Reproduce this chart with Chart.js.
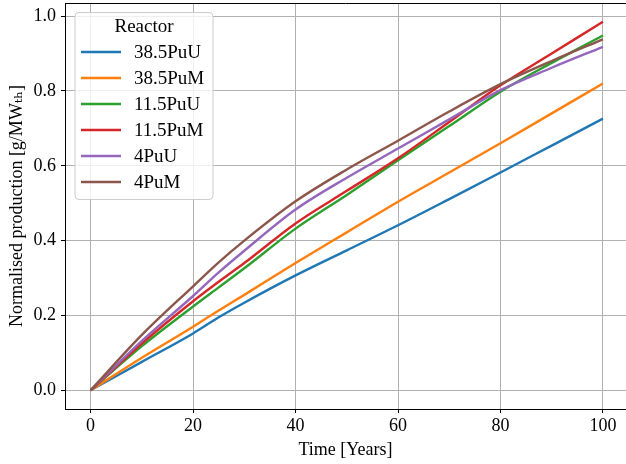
<!DOCTYPE html>
<html>
<head>
<meta charset="utf-8">
<script src="https://cdn.jsdelivr.net/npm/chart.js@4.4.1/dist/chart.umd.min.js"></script>
<style>
html,body{margin:0;padding:0;background:#fff;overflow:hidden;}
#wrap{width:626px;height:464px;position:relative;}
</style>
</head>
<body>
<div id="wrap"><canvas id="c" width="626" height="464"></canvas></div>
<script>
const years = [0, 10, 20, 25, 30, 40, 50, 60, 70, 80, 90, 100];
const s385PuU = [0, 0.076, 0.152, 0.195, 0.234, 0.307, 0.374, 0.441, 0.511, 0.582, 0.654, 0.726];
const s385PuM = [0, 0.087, 0.170, 0.213, 0.255, 0.340, 0.422, 0.504, 0.582, 0.660, 0.740, 0.820];
const s115PuU = [0, 0.118, 0.224, 0.275, 0.326, 0.432, 0.522, 0.615, 0.706, 0.798, 0.875, 0.948];
const s115PuM = [0, 0.125, 0.238, 0.290, 0.340, 0.446, 0.533, 0.620, 0.717, 0.815, 0.900, 0.985];
const s4PuU   = [0, 0.132, 0.252, 0.315, 0.373, 0.483, 0.568, 0.646, 0.724, 0.802, 0.862, 0.918];
const s4PuM   = [0, 0.148, 0.278, 0.342, 0.400, 0.505, 0.590, 0.667, 0.745, 0.818, 0.880, 0.938];
const seriesNames = ['38.5PuU', '38.5PuM', '11.5PuU', '11.5PuM', '4PuU', '4PuM'];
const seriesValues = [s385PuU, s385PuM, s115PuU, s115PuM, s4PuU, s4PuM];
const colors = ['#1f77b4', '#ff7f0e', '#2ca02c', '#d62728', '#9467bd', '#8c564b'];
const xTicks = [0, 20, 40, 60, 80, 100];
const yTicks = [0, 0.2, 0.4, 0.6, 0.8, 1.0];
const legendTitle = 'Reactor';

const FONT = "'Liberation Serif', 'DejaVu Serif', serif";

const datasets = seriesNames.map((n, i) => ({
  label: n,
  data: years.map((t, k) => ({x: t, y: seriesValues[i][k]})),
  borderColor: colors[i],
  backgroundColor: colors[i],
  borderWidth: 2.4,
  pointRadius: 0,
  fill: false,
  cubicInterpolationMode: 'monotone',
  order: seriesNames.length - i
}));

const extras = {
  id: 'extras',
  afterDraw(chart) {
    const ctx = chart.ctx, a = chart.chartArea;
    ctx.save();
    ctx.strokeStyle = '#000';
    ctx.lineWidth = 1;
    ctx.beginPath();
    ctx.moveTo(a.left, a.top + 0.5);
    ctx.lineTo(a.right, a.top + 0.5);
    ctx.stroke();
    const bx = a.left + 10, by = a.top + 9.5, bw = 138, bh = 187, r = 4;
    ctx.beginPath();
    ctx.moveTo(bx + r, by);
    ctx.lineTo(bx + bw - r, by);
    ctx.quadraticCurveTo(bx + bw, by, bx + bw, by + r);
    ctx.lineTo(bx + bw, by + bh - r);
    ctx.quadraticCurveTo(bx + bw, by + bh, bx + bw - r, by + bh);
    ctx.lineTo(bx + r, by + bh);
    ctx.quadraticCurveTo(bx, by + bh, bx, by + bh - r);
    ctx.lineTo(bx, by + r);
    ctx.quadraticCurveTo(bx, by, bx + r, by);
    ctx.closePath();
    ctx.fillStyle = 'rgba(255,255,255,0.8)';
    ctx.fill();
    ctx.strokeStyle = '#cccccc';
    ctx.lineWidth = 1;
    ctx.stroke();
    ctx.fillStyle = '#000';
    ctx.font = '19px ' + FONT;
    ctx.textAlign = 'center';
    ctx.textBaseline = 'middle';
    ctx.fillText(legendTitle, bx + bw / 2, by + 15);
    ctx.textAlign = 'left';
    seriesNames.forEach((n, i) => {
      const yy = by + 39.5 + i * 26;
      ctx.strokeStyle = colors[i];
      ctx.lineWidth = 2.4;
      ctx.beginPath();
      ctx.moveTo(bx + 6, yy);
      ctx.lineTo(bx + 46, yy);
      ctx.stroke();
      ctx.fillStyle = '#000';
      ctx.fillText(n, bx + 59, yy + 1);
    });
    ctx.restore();
  }
};

new Chart(document.getElementById('c'), {
  type: 'line',
  data: { datasets },
  options: {
    responsive: false,
    animation: false,
    layout: { padding: { top: 3, right: 0, left: 0, bottom: 0 } },
    plugins: { legend: { display: false }, tooltip: { enabled: false } },
    scales: {
      x: {
        type: 'linear',
        min: -5,
        max: 104.5,
        afterBuildTicks(scale) { scale.ticks = xTicks.map(v => ({value: v})); },
        afterFit(scale) { scale.height = 55; scale.paddingLeft = 0; scale.paddingRight = 0; },
        ticks: { font: { family: FONT, size: 18 }, color: '#000', padding: 2, maxRotation: 0,
          callback: v => String(v) },
        grid: { color: '#b0b0b0', lineWidth: 1, tickColor: '#000', tickLength: 4 },
        border: { color: '#000', width: 1 },
        title: { display: true, text: 'Time [Years]', color: '#000',
          font: { family: FONT, size: 18 }, padding: { top: 0, bottom: 3 } }
      },
      y: {
        type: 'linear',
        min: -0.05,
        max: 1.035,
        afterBuildTicks(scale) { scale.ticks = yTicks.map(v => ({value: v})); },
        afterFit(scale) { scale.width = 65; scale.paddingTop = 0; scale.paddingBottom = 0; },
        ticks: { font: { family: FONT, size: 18 }, color: '#000', padding: 5,
          callback: v => Number(v).toFixed(1) },
        grid: { color: '#b0b0b0', lineWidth: 1, tickColor: '#000', tickLength: 4 },
        border: { color: '#000', width: 1 },
        title: { display: true, text: 'Normalised production [g/MWₜₕ]', color: '#000',
          font: { family: FONT, size: 18 }, padding: { top: 6, bottom: 0 } }
      }
    }
  },
  plugins: [extras]
});
</script>
</body>
</html>
